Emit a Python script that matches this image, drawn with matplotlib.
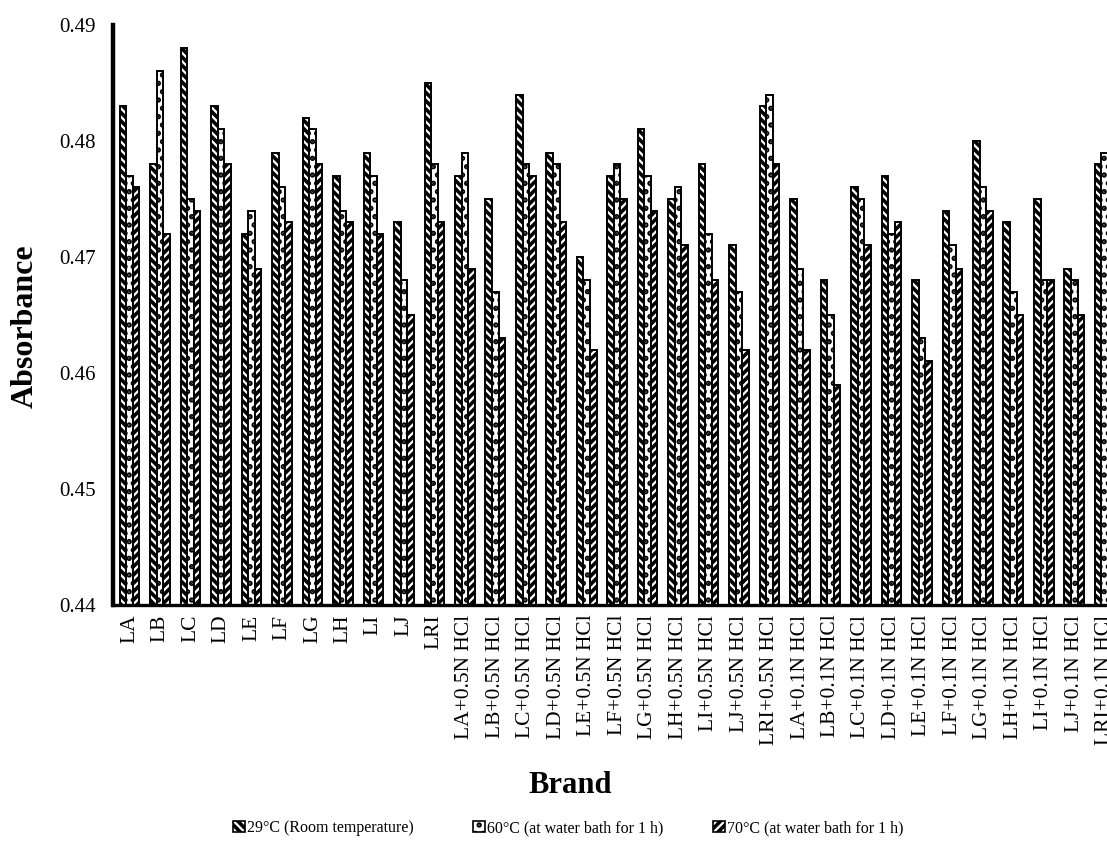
import numpy as np
import matplotlib
matplotlib.use("Agg")
import matplotlib.pyplot as plt
from matplotlib.patches import Patch

# Brands / treatments
brands = ["LA", "LB", "LC", "LD", "LE", "LF", "LG", "LH", "LI", "LJ", "LRI"]
categories = (brands
              + [b + "+0.5N HCl" for b in brands]
              + [b + "+0.1N HCl" for b in brands])

# Absorbance readings per temperature condition
room_temp = [0.483, 0.478, 0.488, 0.483, 0.472, 0.479, 0.482, 0.477, 0.479, 0.473, 0.485,
             0.477, 0.475, 0.484, 0.479, 0.470, 0.477, 0.481, 0.475, 0.478, 0.471, 0.483,
             0.475, 0.468, 0.476, 0.477, 0.468, 0.474, 0.480, 0.473, 0.475, 0.469, 0.478]
bath_60 = [0.477, 0.486, 0.475, 0.481, 0.474, 0.476, 0.481, 0.474, 0.477, 0.468, 0.478,
           0.479, 0.467, 0.478, 0.478, 0.468, 0.478, 0.477, 0.476, 0.472, 0.467, 0.484,
           0.469, 0.465, 0.475, 0.472, 0.463, 0.471, 0.476, 0.467, 0.468, 0.468, 0.479]
bath_70 = [0.476, 0.472, 0.474, 0.478, 0.469, 0.473, 0.478, 0.473, 0.472, 0.465, 0.473,
           0.469, 0.463, 0.477, 0.473, 0.462, 0.475, 0.474, 0.471, 0.468, 0.462, 0.478,
           0.462, 0.459, 0.471, 0.473, 0.461, 0.469, 0.474, 0.465, 0.468, 0.465, np.nan]

series_labels = ["29°C (Room temperature)",
                 "60°C (at water bath for 1 h)",
                 "70°C (at water bath for 1 h)"]
hatches = ["\\\\\\\\", "..", "////"]

plt.rcParams["font.family"] = ["Liberation Serif", "DejaVu Serif"]
plt.rcParams["hatch.linewidth"] = 2.6
plt.rcParams["hatch.color"] = "black"

fig = plt.figure(figsize=(11.07, 8.63), dpi=100)
ax = fig.add_axes([0.102, 0.299, 0.9097, 0.672])

x = np.arange(len(categories))
w = 0.215
for i, (vals, lab, h) in enumerate(zip([room_temp, bath_60, bath_70], series_labels, hatches)):
    ax.bar(x + (i - 1) * w, vals, width=w, bottom=0, color="white",
           edgecolor="black", linewidth=1.4, hatch=h, label=lab)

ax.set_ylim(0.44, 0.49)
ax.set_xlim(-0.55, len(categories) - 0.5)
ax.set_yticks([0.44, 0.45, 0.46, 0.47, 0.48, 0.49])
ax.set_yticklabels(["0.44", "0.45", "0.46", "0.47", "0.48", "0.49"])
ax.set_xticks(x)
ax.set_xticklabels(categories, rotation=90)
ax.tick_params(axis="x", length=0, labelsize=15.5, pad=7)
ax.tick_params(axis="y", length=0, labelsize=15, pad=12)

for side in ["top", "right"]:
    ax.spines[side].set_visible(False)
ax.spines["left"].set_linewidth(3.2)
ax.spines["bottom"].set_linewidth(2.4)

fig.text(25 / 1107, 1 - 326 / 863, "Absorbance", fontsize=23, fontweight="bold",
         rotation=90, ha="center", va="center")
fig.text(570 / 1107, 1 - 785 / 863, "Brand", fontsize=22, fontweight="bold",
         ha="center", va="center")

# Legend entries spaced evenly along the bottom
legend_x = [233, 473, 713]
for xpos, lab, h in zip(legend_x, series_labels, hatches):
    handle = Patch(facecolor="white", edgecolor="black", hatch=h, linewidth=1.2)
    fig.legend(handles=[handle], labels=[lab], loc="center left",
               bbox_to_anchor=(xpos / 1107, 1 - 828 / 863), frameon=False,
               fontsize=11.5, handlelength=0.75, handleheight=0.75,
               handletextpad=0.15, borderpad=0, borderaxespad=0)

fig.savefig("out.png", dpi=100)
